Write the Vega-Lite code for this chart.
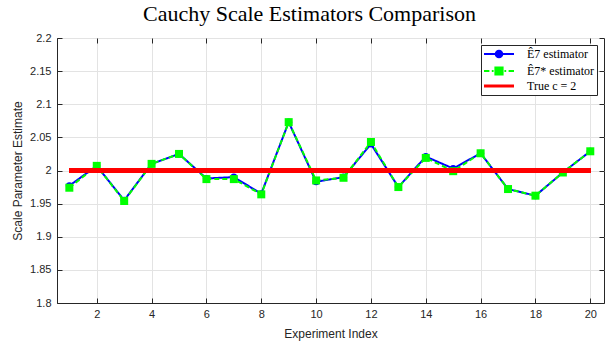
{
  "$schema": "https://vega.github.io/schema/vega-lite/v6.json",
  "width": 547,
  "height": 265,
  "autosize": {"type": "none"},
  "padding": {"left": 57, "top": 38, "right": 10, "bottom": 40},
  "background": "white",
  "title": {
    "text": "Cauchy Scale Estimators Comparison",
    "font": "Liberation Serif",
    "fontSize": 22,
    "fontWeight": "normal",
    "color": "black",
    "anchor": "middle",
    "dx": -21,
    "offset": 6
  },
  "config": {
    "view": {"stroke": "#262626", "strokeWidth": 1},
    "axis": {
      "labelFont": "Liberation Sans",
      "labelFontSize": 11,
      "labelColor": "#262626",
      "titleFont": "Liberation Sans",
      "titleFontSize": 12,
      "titleFontWeight": "normal",
      "titleColor": "#262626",
      "domainColor": "#262626",
      "tickColor": "#262626",
      "gridColor": "#e3e3e3",
      "gridOpacity": 1
    }
  },
  "data": {
    "values": [
      {"idx": 1, "series": "Ê7 estimator", "value": 1.977},
      {"idx": 2, "series": "Ê7 estimator", "value": 2.007},
      {"idx": 3, "series": "Ê7 estimator", "value": 1.955},
      {"idx": 4, "series": "Ê7 estimator", "value": 2.010},
      {"idx": 5, "series": "Ê7 estimator", "value": 2.025},
      {"idx": 6, "series": "Ê7 estimator", "value": 1.988},
      {"idx": 7, "series": "Ê7 estimator", "value": 1.990},
      {"idx": 8, "series": "Ê7 estimator", "value": 1.965},
      {"idx": 9, "series": "Ê7 estimator", "value": 2.073},
      {"idx": 10, "series": "Ê7 estimator", "value": 1.983},
      {"idx": 11, "series": "Ê7 estimator", "value": 1.990},
      {"idx": 12, "series": "Ê7 estimator", "value": 2.040},
      {"idx": 13, "series": "Ê7 estimator", "value": 1.975},
      {"idx": 14, "series": "Ê7 estimator", "value": 2.021},
      {"idx": 15, "series": "Ê7 estimator", "value": 2.003},
      {"idx": 16, "series": "Ê7 estimator", "value": 2.026},
      {"idx": 17, "series": "Ê7 estimator", "value": 1.972},
      {"idx": 18, "series": "Ê7 estimator", "value": 1.962},
      {"idx": 19, "series": "Ê7 estimator", "value": 1.997},
      {"idx": 20, "series": "Ê7 estimator", "value": 2.029},
      {"idx": 1, "series": "Ê7* estimator", "value": 1.974},
      {"idx": 2, "series": "Ê7* estimator", "value": 2.007},
      {"idx": 3, "series": "Ê7* estimator", "value": 1.954},
      {"idx": 4, "series": "Ê7* estimator", "value": 2.010},
      {"idx": 5, "series": "Ê7* estimator", "value": 2.025},
      {"idx": 6, "series": "Ê7* estimator", "value": 1.987},
      {"idx": 7, "series": "Ê7* estimator", "value": 1.987},
      {"idx": 8, "series": "Ê7* estimator", "value": 1.964},
      {"idx": 9, "series": "Ê7* estimator", "value": 2.073},
      {"idx": 10, "series": "Ê7* estimator", "value": 1.985},
      {"idx": 11, "series": "Ê7* estimator", "value": 1.989},
      {"idx": 12, "series": "Ê7* estimator", "value": 2.043},
      {"idx": 13, "series": "Ê7* estimator", "value": 1.975},
      {"idx": 14, "series": "Ê7* estimator", "value": 2.019},
      {"idx": 15, "series": "Ê7* estimator", "value": 1.999},
      {"idx": 16, "series": "Ê7* estimator", "value": 2.026},
      {"idx": 17, "series": "Ê7* estimator", "value": 1.972},
      {"idx": 18, "series": "Ê7* estimator", "value": 1.962},
      {"idx": 19, "series": "Ê7* estimator", "value": 1.997},
      {"idx": 20, "series": "Ê7* estimator", "value": 2.029}
    ]
  },
  "resolve": {"axis": {"x": "independent", "y": "independent"}},
  "layer": [
    {
      "mark": {"type": "line", "strokeWidth": 2},
      "encoding": {
        "x": {"field": "idx", "type": "quantitative", "scale": {"domain": [0.55, 20.5], "nice": false, "zero": false},
              "axis": {"values": [2,4,6,8,10,12,14,16,18,20], "title": "Experiment Index", "tickSize": -5, "labelPadding": 10, "titlePadding": 9}},
        "y": {"field": "value", "type": "quantitative", "scale": {"domain": [1.8, 2.2], "nice": false, "zero": false},
              "axis": {"values": [1.8,1.85,1.9,1.95,2,2.05,2.1,2.15,2.2], "format": ".3~g", "title": "Scale Parameter Estimate", "tickSize": -5, "labelPadding": 11, "titlePadding": 5}},
        "color": {
          "field": "series", "type": "nominal",
          "scale": {"domain": ["Ê7 estimator", "Ê7* estimator", "True c = 2"], "range": ["#0000ff", "#00ff00", "#ff0000"]},
          "legend": {
            "title": null,
            "orient": "none",
            "legendX": 424,
            "legendY": 7,
            "zindex": 5,
            "fillColor": "white",
            "strokeColor": "#262626",
            "padding": 3,
            "labelFont": "Liberation Serif",
            "labelFontSize": 12,
            "labelColor": "black",
            "symbolSize": 144,
            "symbolOffset": 9,
            "symbolStrokeWidth": 2,
            "rowPadding": 1,
            "labelOffset": 22,
            "encode": {
              "symbols": {
                "update": {
                  "shape": {"signal": "datum.value === 'Ê7 estimator' ? 'M-2.5,0L2.5,0M-0.55,0A0.55,0.55 0 1,0 0.55,0A0.55,0.55 0 1,0 -0.55,0Z' : datum.value === 'Ê7* estimator' ? 'M-2.5,0L-1.6,0M-1.2,0L-0.9,0M-0.6,-0.6L0.6,-0.6L0.6,0.6L-0.6,0.6ZM0.9,0L1.2,0M1.6,0L2.5,0' : 'M-2.5,0L2.5,0'"},
                  "fill": {"signal": "datum.value === 'Ê7 estimator' ? '#0000ff' : datum.value === 'Ê7* estimator' ? '#00ff00' : 'transparent'"},
                  "stroke": {"signal": "datum.value === 'Ê7 estimator' ? '#0000ff' : datum.value === 'Ê7* estimator' ? '#00ff00' : '#ff0000'"},
                  "strokeWidth": {"signal": "datum.value === 'True c = 2' ? 3 : 2"},
                  "strokeDash": {"value": []},
                  "opacity": {"value": 1}
                }
              }
            }
          }
        },
        "strokeDash": {
          "field": "series", "type": "nominal",
          "scale": {"domain": ["Ê7 estimator", "Ê7* estimator"], "range": [[1, 0], [5, 3]]},
          "legend": null
        }
      }
    },
    {
      "mark": {"type": "point", "filled": true, "opacity": 1},
      "encoding": {
        "x": {"field": "idx", "type": "quantitative", "axis": null},
        "y": {"field": "value", "type": "quantitative", "axis": null},
        "color": {"field": "series", "type": "nominal", "legend": null},
        "shape": {"field": "series", "type": "nominal", "scale": {"domain": ["Ê7 estimator", "Ê7* estimator"], "range": ["circle", "square"]}, "legend": null},
        "size": {"field": "series", "type": "nominal", "scale": {"domain": ["Ê7 estimator", "Ê7* estimator"], "range": [50, 64]}, "legend": null}
      }
    },
    {
      "mark": {"type": "rule", "color": "#ff0000", "strokeWidth": 3.5},
      "encoding": {
        "x": {"datum": 1, "type": "quantitative", "axis": {"orient": "top", "values": [2,4,6,8,10,12,14,16,18,20], "labels": false, "grid": false, "domain": false, "title": null, "tickSize": -5}},
        "x2": {"datum": 20},
        "y": {"datum": 2, "type": "quantitative", "axis": {"orient": "right", "values": [1.8,1.85,1.9,1.95,2,2.05,2.1,2.15,2.2], "labels": false, "grid": false, "domain": false, "title": null, "tickSize": -5}}
      }
    }
  ]
}
